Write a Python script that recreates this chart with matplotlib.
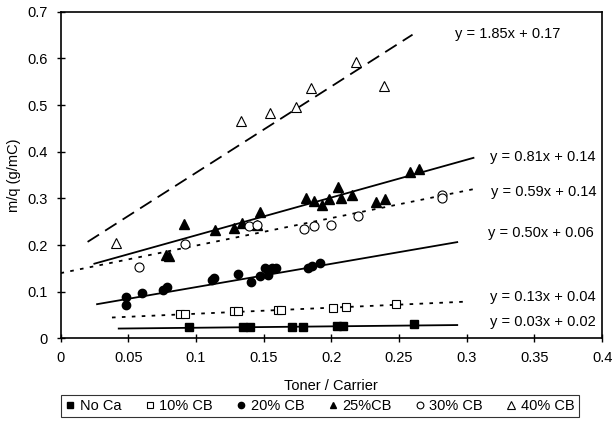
import numpy as np
import matplotlib.pyplot as plt

plt.rcParams['font.family'] = ['Liberation Sans', 'DejaVu Sans']

# data
noca_x = [0.095, 0.135, 0.140, 0.171, 0.179, 0.204, 0.209, 0.261]
noca_y = [0.025, 0.024, 0.025, 0.025, 0.025, 0.027, 0.027, 0.030]

cb10_x = [0.088, 0.092, 0.128, 0.131, 0.161, 0.163, 0.201, 0.211, 0.248]
cb10_y = [0.052, 0.052, 0.058, 0.058, 0.061, 0.061, 0.065, 0.068, 0.074]

cb20_x = [0.048, 0.048, 0.060, 0.076, 0.079, 0.112, 0.113, 0.131, 0.141,
          0.147, 0.151, 0.153, 0.156, 0.159, 0.183, 0.186, 0.192]
cb20_y = [0.089, 0.072, 0.098, 0.104, 0.110, 0.125, 0.129, 0.138, 0.122,
          0.134, 0.150, 0.135, 0.152, 0.150, 0.150, 0.155, 0.162]

cb25_x = [0.078, 0.080, 0.091, 0.114, 0.128, 0.134, 0.145, 0.147, 0.181,
          0.187, 0.193, 0.198, 0.205, 0.207, 0.215, 0.233, 0.240, 0.258, 0.265]
cb25_y = [0.178, 0.177, 0.246, 0.232, 0.237, 0.248, 0.244, 0.271, 0.302,
          0.294, 0.285, 0.298, 0.324, 0.302, 0.307, 0.293, 0.298, 0.357, 0.364]

cb30_x = [0.058, 0.092, 0.139, 0.145, 0.180, 0.187, 0.200, 0.220, 0.282, 0.282]
cb30_y = [0.153, 0.202, 0.240, 0.244, 0.234, 0.242, 0.243, 0.263, 0.307, 0.300]

cb40_x = [0.041, 0.133, 0.155, 0.174, 0.185, 0.218, 0.239]
cb40_y = [0.204, 0.466, 0.483, 0.496, 0.536, 0.592, 0.540]

# trend lines: slope, intercept, x start, x end
fit_slope = [0.03, 0.13, 0.50, 0.81, 0.59, 1.85]
fit_icept = [0.02, 0.04, 0.06, 0.14, 0.14, 0.17]
fit_x0 = [0.043, 0.038, 0.027, 0.025, 0.0, 0.020]
fit_x1 = [0.293, 0.300, 0.293, 0.305, 0.305, 0.260]
fit_text = ['y = 0.03x + 0.02', 'y = 0.13x + 0.04', 'y = 0.50x + 0.06',
            'y = 0.81x + 0.14', 'y = 0.59x + 0.14', 'y = 1.85x + 0.17']
text_x = [0.317, 0.317, 0.316, 0.317, 0.318, 0.291]
text_y = [0.036, 0.089, 0.225, 0.389, 0.314, 0.653]

fig = plt.figure(figsize=(6.15, 4.21), dpi=100)
ax = fig.add_axes([0.0984, 0.196, 0.8806, 0.776])

ax.plot(noca_x, noca_y, 's', color='black', ms=5.5, label='No Ca', zorder=3)
ax.plot(cb10_x, cb10_y, 's', mfc='white', mec='black', mew=0.8, ms=6, label='10% CB', zorder=3)
ax.plot(cb20_x, cb20_y, 'o', color='black', ms=6, label='20% CB', zorder=3)
ax.plot(cb25_x, cb25_y, '^', color='black', ms=6.5, label='25%CB', zorder=3)
ax.plot(cb30_x, cb30_y, 'o', mfc='white', mec='black', mew=0.8, ms=6.5, label='30% CB', zorder=3)
ax.plot(cb40_x, cb40_y, '^', mfc='white', mec='black', mew=0.8, ms=7, label='40% CB', zorder=3)

styles = ['-', (0, (2, 3.5)), '-', '-', (0, (2, 3.5)), (0, (7.5, 4))]
for m, b, x0, x1, ls in zip(fit_slope, fit_icept, fit_x0, fit_x1, styles):
    xx = np.array([x0, x1])
    ax.plot(xx, m * xx + b, color='black', lw=1.3, linestyle=ls, zorder=2)

for t, tx, ty in zip(fit_text, text_x, text_y):
    ax.text(tx, ty, t, fontsize=10.5, va='center', ha='left')

ax.set_xlim(0, 0.4)
ax.set_ylim(0, 0.7)
xt = np.arange(0, 0.401, 0.05)
yt = np.arange(0, 0.701, 0.1)
ax.set_xticks(xt)
ax.set_xticklabels(['0', '0.05', '0.1', '0.15', '0.2', '0.25', '0.3', '0.35', '0.4'])
ax.set_yticks(yt)
ax.set_yticklabels(['0', '0.1', '0.2', '0.3', '0.4', '0.5', '0.6', '0.7'])
ax.tick_params(direction='inout', length=6, width=1, labelsize=10.5, pad=6)
for s in ax.spines.values():
    s.set_linewidth(1.2)

ax.set_xlabel('Toner / Carrier', fontsize=10.5, labelpad=10)
ax.set_ylabel('m/q (g/mC)', fontsize=10.5, labelpad=5)

leg = fig.legend(*ax.get_legend_handles_labels(), loc='center', ncol=6,
                 bbox_to_anchor=(0.52, 0.0356), fontsize=10.5, frameon=True,
                 fancybox=False, edgecolor='black', handlelength=0.7,
                 handletextpad=0.3, columnspacing=1.6, markerscale=0.75,
                 borderpad=0.3)
leg.get_frame().set_linewidth(0.8)

plt.savefig('out.png', dpi=100)
plt.close()
